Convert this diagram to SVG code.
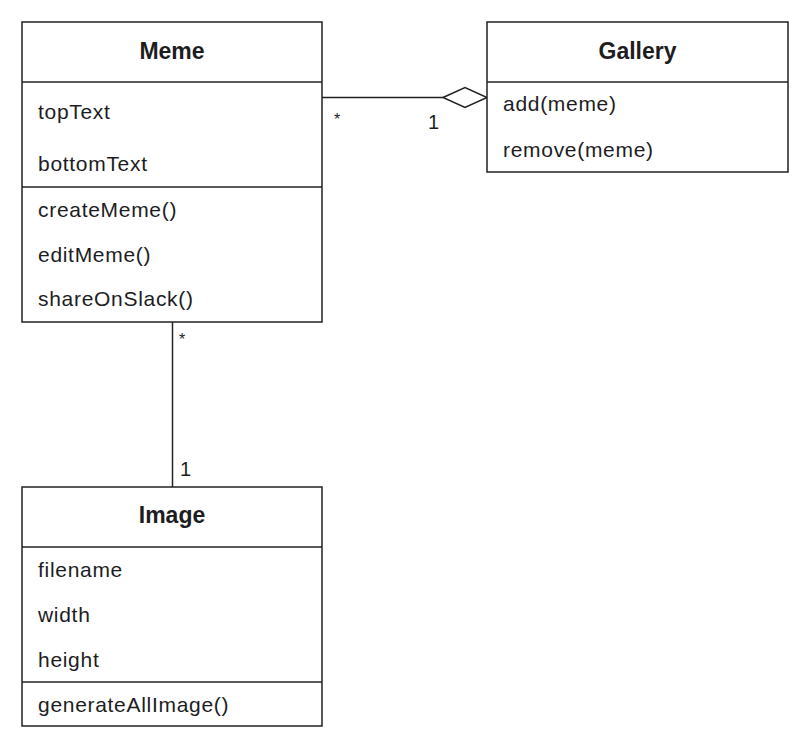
<svg xmlns="http://www.w3.org/2000/svg" width="810" height="750" viewBox="0 0 810 750">
<style>
.box{fill:#fff;stroke:#222;stroke-width:1.5}
.div{stroke:#222;stroke-width:1.5}
.t{font-family:"Liberation Sans",Arial,sans-serif;font-size:21px;fill:#1d1d1f;letter-spacing:0.7px}
.h{font-family:"Liberation Sans",Arial,sans-serif;font-size:23px;font-weight:bold;fill:#1d1d1f;text-anchor:middle}
.m{font-family:"Liberation Sans",Arial,sans-serif;font-size:20px;fill:#1d1d1f}
.s{font-family:"Liberation Sans",Arial,sans-serif;font-size:16px;fill:#1d1d1f}
.ln{stroke:#222;stroke-width:1.5;fill:none}
</style>
<rect width="810" height="750" fill="#fff"/>
<g id="connectors">
<line class="ln" x1="322" y1="97.5" x2="443" y2="97.5"/>
<polygon points="443,97.5 465,87.5 487,97.5 465,107.5" fill="#fff" stroke="#222" stroke-width="1.5"/>
<text class="s" x="334" y="125">*</text>
<text class="m" x="428" y="129">1</text>
<line class="ln" x1="172.5" y1="322" x2="172.5" y2="487"/>
<text class="s" x="179" y="345">*</text>
<text class="m" x="180" y="476">1</text>
</g>
<g id="meme">
<rect class="box" x="22" y="22" width="300" height="300"/>
<line class="div" x1="22" y1="82" x2="322" y2="82"/>
<line class="div" x1="22" y1="187" x2="322" y2="187"/>
<text class="h" x="172" y="59">Meme</text>
<text class="t" x="38" y="119">topText</text>
<text class="t" x="38" y="171">bottomText</text>
<text class="t" x="38" y="217">createMeme()</text>
<text class="t" x="38" y="262">editMeme()</text>
<text class="t" x="38" y="306">shareOnSlack()</text>
</g>
<g id="gallery">
<rect class="box" x="487" y="22" width="301" height="150"/>
<line class="div" x1="487" y1="82" x2="788" y2="82"/>
<text class="h" x="637.5" y="59">Gallery</text>
<text class="t" x="503" y="111">add(meme)</text>
<text class="t" x="503" y="157">remove(meme)</text>
</g>
<g id="image">
<rect class="box" x="22" y="487" width="300" height="239"/>
<line class="div" x1="22" y1="547" x2="322" y2="547"/>
<line class="div" x1="22" y1="682" x2="322" y2="682"/>
<text class="h" x="172" y="523">Image</text>
<text class="t" x="38" y="577">filename</text>
<text class="t" x="38" y="622">width</text>
<text class="t" x="38" y="667">height</text>
<text class="t" x="38" y="712">generateAllImage()</text>
</g>
</svg>
